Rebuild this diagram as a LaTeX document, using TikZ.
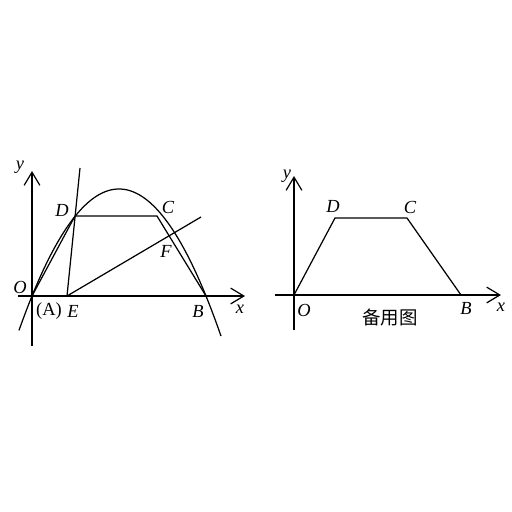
\documentclass[tikz,border=0pt]{standalone}
\usepackage{fontspec}
\setmainfont{Liberation Serif}
\newfontfamily\cjk{Noto Sans CJK SC}
\usetikzlibrary{arrows.meta}
\begin{document}
\begin{tikzpicture}[x=0.02cm,y=-0.02cm,
  ln/.style={line width=0.7pt,black},
  ax/.style={line width=0.7pt,black,-{Straight Barb[length=7.5,width=9,line width=0.7pt]}},
  lb/.style={font=\fontsize{10.5}{12}\selectfont\itshape,inner sep=0pt},
  lbu/.style={font=\fontsize{10.5}{12}\selectfont,inner sep=0pt}]
\useasboundingbox (0,0) rectangle (512,512);
% ---------- left figure ----------
\coordinate (O) at (32,296);
\coordinate (D) at (75,216);
\coordinate (C) at (157,216);
\coordinate (B) at (206,296);
\coordinate (E) at (67,296);
\coordinate (F) at (169,235);
\coordinate (xs) at (18,296);
\coordinate (xe) at (245,296);
\coordinate (ys) at (32,346);
\coordinate (ye) at (32,171);
\coordinate (ED2) at (80,168);
\coordinate (EF2) at (201,217);
\draw[ax] (xs) -- (xe);
\draw[ax] (ys) -- (ye);
\draw[ln] plot[domain=19:221,samples=120] (\x,{296-107*(1-((\x-119)/87)^2)});
\draw[ln] (O) -- (D) -- (C) -- (B);
\draw[ln] (E) -- (ED2);
\draw[ln] (E) -- (EF2);
\node[lb] (ly) at (20,167) {y};
\node[lb] (lx) at (240,309) {x};
\node[lb] (lO) at (20,287) {O};
\node[lbu] (lA) at (49,311) {(A)};
\node[lb] (lE) at (73,311) {E};
\node[lb] (lB) at (198,311) {B};
\node[lb] (lD) at (62,210) {D};
\node[lb] (lC) at (168,207) {C};
\node[lb] (lF) at (166,251) {F};
% ---------- right figure ----------
\coordinate (O2) at (294,295);
\coordinate (D2) at (335,218);
\coordinate (C2) at (407,218);
\coordinate (B2) at (461,295);
\coordinate (xs2) at (275,295);
\coordinate (xe2) at (501,295);
\coordinate (ys2) at (294,330);
\coordinate (ye2) at (294,176);
\draw[ax] (xs2) -- (xe2);
\draw[ax] (ys2) -- (ye2);
\draw[ln] (O2) -- (D2) -- (C2) -- (B2);
\node[lb] (ly2) at (287,176) {y};
\node[lb] (lx2) at (501,307) {x};
\node[lb] (lD2) at (333,206) {D};
\node[lb] (lC2) at (410,207) {C};
\node[lb] (lO2) at (304,310) {O};
\node[lb] (lB2) at (466,308) {B};
\node[inner sep=0pt,font=\cjk\fontsize{10.5}{12}\selectfont] (bt) at (390,318) {备用图};
\end{tikzpicture}
\end{document}
